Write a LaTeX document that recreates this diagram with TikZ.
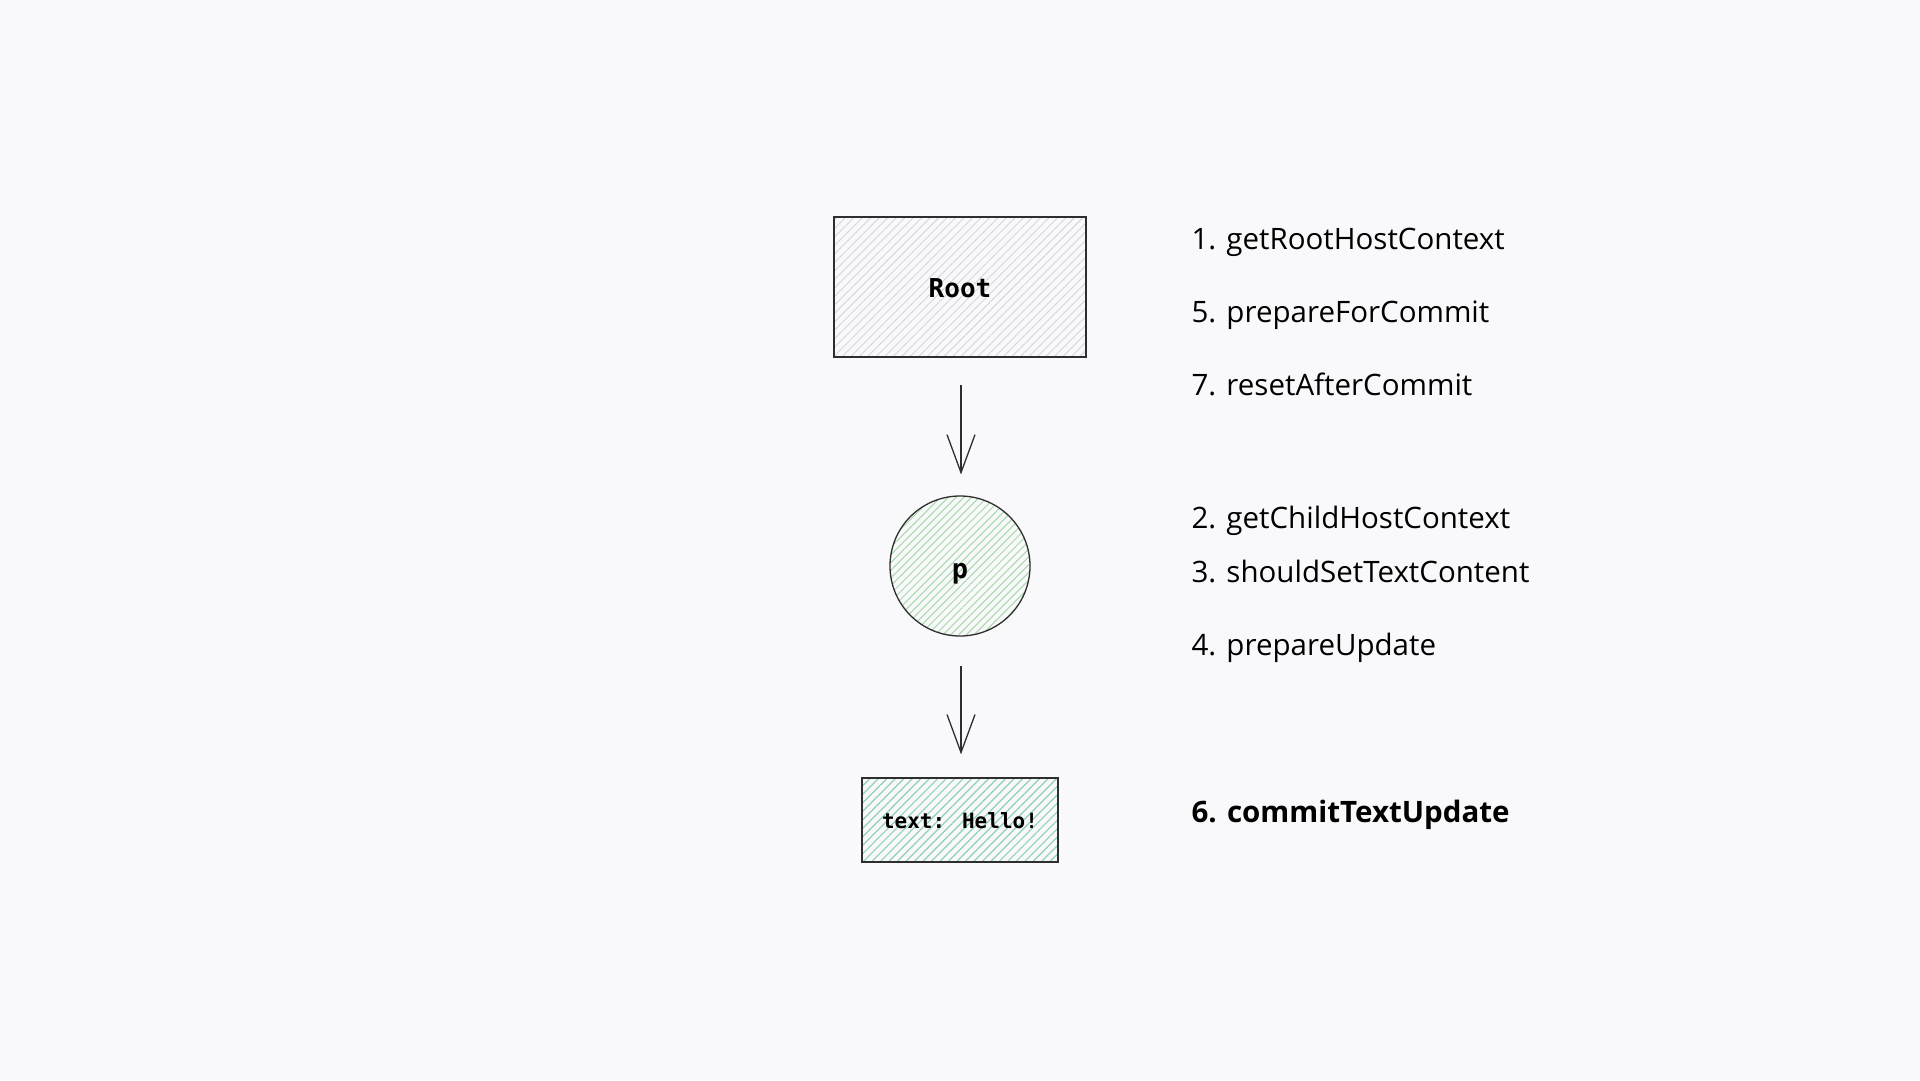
\documentclass[tikz,border=0pt]{standalone}
\usepackage{fontspec}
\setmainfont{Open Sans}
\newfontfamily\codefont{DejaVu Sans Mono}
\usetikzlibrary{patterns.meta,arrows.meta}
\definecolor{bg}{HTML}{F9F9FB}
\definecolor{edge}{HTML}{2E2E2E}
\definecolor{grayhatch}{HTML}{D6D6DA}
\definecolor{greenhatch}{HTML}{A6D9A8}
\definecolor{tealhatch}{HTML}{8FD1B5}
\tikzset{
  box/.style={draw=edge, line width=1.3pt, inner sep=0pt},
  code/.style={font=\codefont, text=black},
  step label/.style={anchor=base west, font=\fontsize{29.5}{31}\selectfont, text=black},
  flow/.style={draw=edge, line width=1.3pt, -{Straight Barb[length=38pt,width=28pt,line width=1.3pt]}}
}
\begin{document}
\begin{tikzpicture}[x=1pt,y=-1pt]
  \fill[bg] (0,0) rectangle (1920,1080);
  \useasboundingbox (0,0) rectangle (1920,1080);

  % tree of fibers
  \node[box, minimum width=252pt, minimum height=140pt,
        pattern={Lines[angle=45,distance=6pt,line width=0.9pt]}, pattern color=grayhatch]
        (root) at (960,287) {};
  \node[code, font=\codefont\fontsize{26}{28}\selectfont\bfseries, anchor=base] at (960,297) {Root};

  \node[box, circle, minimum size=140pt,
        pattern={Lines[angle=45,distance=5.5pt,line width=1pt]}, pattern color=greenhatch]
        (p) at (960,566) {};
  \node[code, font=\codefont\fontsize{27}{28}\selectfont\bfseries, anchor=base] at (960,578) {p};

  \node[box, minimum width=196pt, minimum height=84pt,
        pattern={Lines[angle=45,distance=6pt,line width=1.2pt]}, pattern color=tealhatch]
        (txt) at (960,820) {};
  \node[code, font=\codefont\fontsize{21}{24}\selectfont\bfseries, anchor=base] at (960,828) {text: Hello!};

  \draw[flow, shorten <=28pt, shorten >=21pt] (root.south) ++(1,0) coordinate (a1) (a1) -- (p.north -| a1);
  \draw[flow, shorten <=29pt, shorten >=23pt] (p.south) ++(1,0) coordinate (a2) (a2) -- (txt.north -| a2);

  % host config calls
  \node[step label] (s1) at (1188,249) {1. getRootHostContext};
  \node[step label] (s5) at (1188,322) {5. prepareForCommit};
  \node[step label] (s7) at (1188,395) {7. resetAfterCommit};
  \node[step label] (s2) at (1188,528) {2. getChildHostContext};
  \node[step label] (s3) at (1188,582) {3. shouldSetTextContent};
  \node[step label] (s4) at (1188,655) {4. prepareUpdate};
  \node[step label, font=\fontsize{29.5}{31}\selectfont\bfseries] (s6) at (1188,822) {6. commitTextUpdate};
\end{tikzpicture}
\end{document}
